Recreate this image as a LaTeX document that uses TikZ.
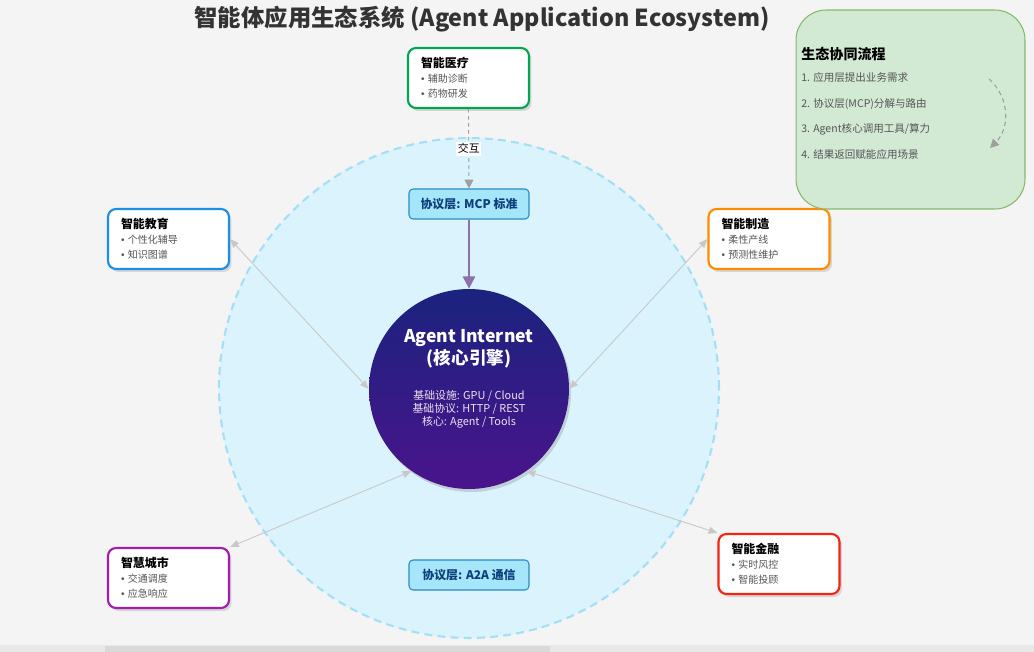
\documentclass[tikz,border=0pt]{standalone}
\usepackage{fontspec}
\setmainfont{Noto Sans CJK SC}
\newfontfamily\dotfont{Liberation Sans}
\usepackage{tikz}
\usetikzlibrary{positioning}
\usetikzlibrary{arrows.meta}
\usetikzlibrary{shadows}

\definecolor{bggray}{HTML}{F4F4F4}
\definecolor{ringfill}{HTML}{DBF3FD}
\definecolor{ringline}{HTML}{A3DFF5}
\definecolor{coretop}{HTML}{1A237E}
\definecolor{corebot}{HTML}{4A148C}
\definecolor{layerfill}{HTML}{A5E6FA}
\definecolor{layerline}{HTML}{2A8BC4}
\definecolor{layertext}{HTML}{0D3F7A}
\definecolor{linkgray}{HTML}{C8C8C8}
\definecolor{mcparrow}{HTML}{8E6FA8}
\definecolor{itemgray}{HTML}{555555}
\definecolor{medgreen}{HTML}{00A651}
\definecolor{edublue}{HTML}{1A8FE3}
\definecolor{manuorange}{HTML}{FF8C00}
\definecolor{citypurple}{HTML}{A21CAF}
\definecolor{finred}{HTML}{F22613}
\definecolor{panelfill}{HTML}{D2E9D4}
\definecolor{panelline}{HTML}{86B86A}
\definecolor{titlegray}{HTML}{333333}

\tikzset{
  appbox/.style={draw, line width=1.2pt, fill=white, rounded corners=0.16cm,
    minimum width=2.42cm, minimum height=1.2cm, text width=1.9cm, inner xsep=0.26cm,
    align=left, font=\fontsize{5.7}{8.5}\selectfont,
    drop shadow={opacity=0.25, shadow xshift=0.05cm, shadow yshift=-0.06cm}},
  layerbox/.style={draw=layerline, fill=layerfill, line width=0.6pt, rounded corners=0.08cm,
    minimum width=2.4cm, minimum height=0.6cm, text=layertext,
    font=\fontsize{6.8}{8}\selectfont\bfseries},
  link/.style={linkgray, line width=0.5pt,
    {Triangle[length=5pt,width=4pt]}-{Triangle[length=5pt,width=4pt]}},
  flowtext/.style={anchor=west, text=itemgray, inner sep=0pt, font=\fontsize{6}{7}\selectfont}
}

\newcommand{\cardhead}[1]{{\fontsize{6.8}{8.5}\selectfont\bfseries #1}}
\newcommand{\carditem}[1]{\textcolor{itemgray}{{\dotfont •} #1}}

\begin{document}
\begin{tikzpicture}[x=0.02cm,y=-0.02cm]
      \useasboundingbox (0,0) rectangle (1034,652);
      \fill[bggray] (0,0) rectangle (1034,652);
      \fill[black!9] (0,645) rectangle (1034,652);
      \fill[black!15] (105,646) rectangle (550,652);

      \node[text=titlegray, font=\fontsize{13.3}{16}\selectfont\bfseries] (title) at (482,19)
        {智能体应用生态系统 (Agent Application Ecosystem)};

      % outer ring and core
      \node[circle, minimum size=10cm, fill=ringfill, draw=ringline, line width=1.2pt,
        dash pattern=on 4.5pt off 3pt] (ring) at (469,388) {};
      \node[circle, minimum size=4cm, top color=coretop, bottom color=corebot,
        drop shadow={opacity=0.3, shadow xshift=0.04cm, shadow yshift=-0.06cm}] (core) at (469,389) {};
      \node[text=white, align=center, font=\fontsize{10}{12.5}\selectfont\bfseries] (coretitle)
        at ([yshift=0.8cm]core.center) {Agent Internet\\(核心引擎)};
      \node[text=white!88!violet, align=center, font=\fontsize{6.2}{7.4}\selectfont] (corebody)
        at ([yshift=-0.4cm]core.center) {基础设施: GPU / Cloud\\基础协议: HTTP / REST\\核心: Agent / Tools};

      \node[layerbox] (mcp) at (469,204) {协议层: MCP 标准};
      \node[layerbox] (a2a) at (469,575) {协议层: A2A 通信};

      % application scenes
      \node[appbox, draw=medgreen] (med) at (468.5,78)
        {\cardhead{智能医疗}\\\carditem{辅助诊断}\\\carditem{药物研发}};
      \node[appbox, draw=edublue] (edu) at (168.5,239)
        {\cardhead{智能教育}\\\carditem{个性化辅导}\\\carditem{知识图谱}};
      \node[appbox, draw=manuorange] (manu) at (769,239)
        {\cardhead{智能制造}\\\carditem{柔性产线}\\\carditem{预测性维护}};
      \node[appbox, draw=citypurple] (city) at (168.5,578)
        {\cardhead{智慧城市}\\\carditem{交通调度}\\\carditem{应急响应}};
      \node[appbox, draw=finred] (fin) at (779,564)
        {\cardhead{智能金融}\\\carditem{实时风控}\\\carditem{智能投顾}};

      \draw[gray!75, line width=0.5pt, dash pattern=on 2pt off 2pt, -{Triangle[length=5pt,width=5pt]}]
        (med.south) -- node[fill=white, text=black, inner sep=1pt, font=\fontsize{6.2}{7}\selectfont] (talk) {交互} (mcp.north);
      \draw[mcparrow, line width=1.1pt, -{Triangle[length=7pt,width=7pt]}] (mcp.south) -- (core.north);

      \draw[link] (edu.east) -- (core.west);
      \draw[link] (manu.west) -- (core.east);
      \draw[link] (city.north east) -- (core.235);
      \draw[link] (fin.north west) -- (core.-55);

      % flow panel
      \node[draw=panelline, fill=panelfill, line width=0.6pt, rounded corners=0.6cm,
        minimum width=4.58cm, minimum height=3.98cm] (panel) at (910.5,109.5) {};
      \node[anchor=west, inner sep=0pt, font=\fontsize{8}{9}\selectfont\bfseries] (flowhead) at (801,54) {生态协同流程};
      \node[flowtext] (flow1) at (801,78) {1. 应用层提出业务需求};
      \node[flowtext] (flow2) at (801,104) {2. 协议层(MCP)分解与路由};
      \node[flowtext] (flow3) at (801,129) {3. Agent核心调用工具/算力};
      \node[flowtext] (flow4) at (801,154) {4. 结果返回赋能应用场景};
      \coordinate (flowtop) at (989,79);
      \coordinate (flowend) at (990,148);
      \draw[gray!75, line width=0.6pt, dash pattern=on 2.5pt off 2pt, -{Triangle[length=5pt,width=5pt]}]
        (flowtop) .. controls (1010,98) and (1010,128) .. (flowend);
    \end{tikzpicture}
\end{document}
